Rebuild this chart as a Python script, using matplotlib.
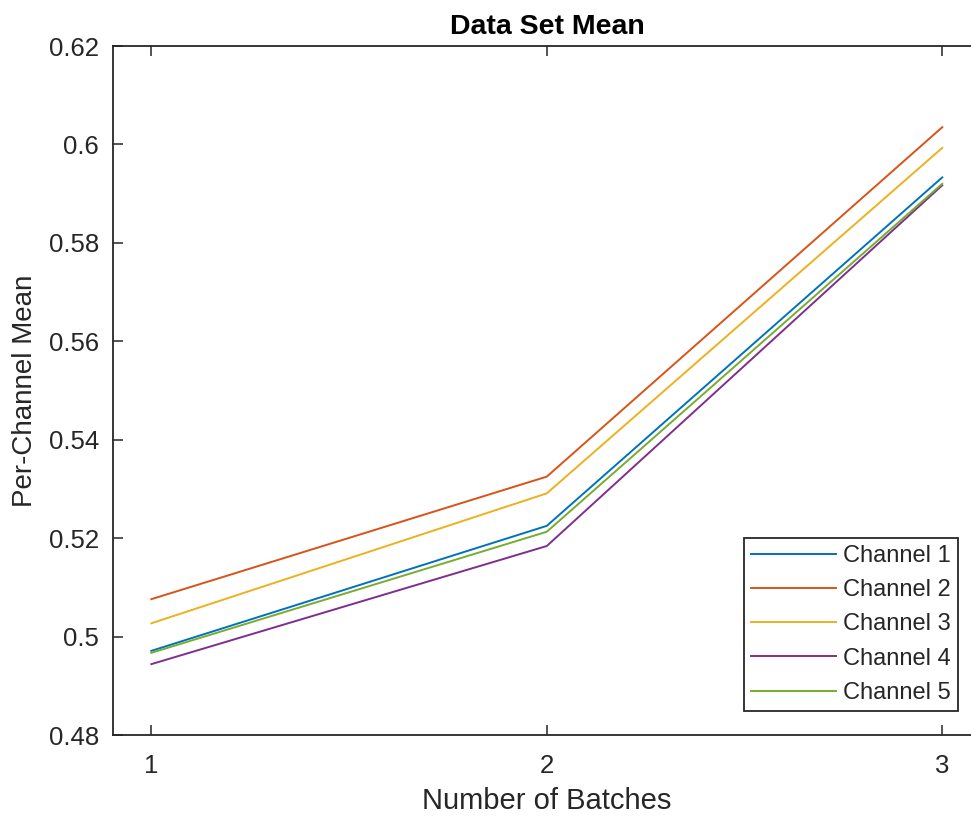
import matplotlib
matplotlib.use("Agg")
import matplotlib.pyplot as plt

plt.rcParams['font.family'] = ['Liberation Sans', 'DejaVu Sans']

batches = [1, 2, 3]
ch1 = [0.4971, 0.5225, 0.5933]
ch2 = [0.5076, 0.5325, 0.6035]
ch3 = [0.5027, 0.5291, 0.5993]
ch4 = [0.4944, 0.5184, 0.5917]
ch5 = [0.4967, 0.5213, 0.5920]
labels = ["Channel 1", "Channel 2", "Channel 3", "Channel 4", "Channel 5"]
colors = ["#0072BD", "#D95319", "#EDB120", "#7E2F8E", "#77AC30"]
yticks = [0.48, 0.5, 0.52, 0.54, 0.56, 0.58, 0.6, 0.62]
ytick_labels = ["0.48", "0.5", "0.52", "0.54", "0.56", "0.58", "0.6", "0.62"]

W, H = 971, 817
fig = plt.figure(figsize=(W / 100, H / 100), dpi=100)
# axes box runs past the right edge of the picture, like the original
ax = fig.add_axes([113 / W, (H - 735) / H, (981 - 113) / W, (735 - 46) / H])

axc = "#262626"
for y, lab, c in zip([ch1, ch2, ch3, ch4, ch5], labels, colors):
    ax.plot(batches, y, color=c, lw=1.4, label=lab)

ax.set_xlim(0.903, 3.098)
ax.set_ylim(0.48, 0.62)
ax.set_xticks(batches)
ax.set_xticklabels(["1", "2", "3"])
ax.set_yticks(yticks)
ax.set_yticklabels(ytick_labels)

for s in ax.spines.values():
    s.set_color(axc)
    s.set_linewidth(1.3)
ax.tick_params(direction="in", length=7, width=1.1, colors=axc,
               top=True, right=True, labelsize=18.5, pad=10)
ax.tick_params(axis="x", pad=14)

ax.set_xlabel("Number of Batches", fontsize=21, color=axc, labelpad=6)
ax.set_ylabel("Per-Channel Mean", fontsize=20, color=axc, labelpad=8)
ax.set_title("Data Set Mean", fontsize=20.5, fontweight="bold", color="black", pad=9)

leg = ax.legend(loc="lower right", bbox_to_anchor=(958 / W, (H - 711) / H),
                bbox_transform=fig.transFigure, borderaxespad=0,
                fancybox=False, framealpha=1, edgecolor=axc, fontsize=17,
                handlelength=3.6, handletextpad=0.3, labelspacing=0.52,
                borderpad=0.3)
leg.get_frame().set_linewidth(1.3)
for t in leg.get_texts():
    t.set_color(axc)

fig.savefig("out.png", dpi=100)
